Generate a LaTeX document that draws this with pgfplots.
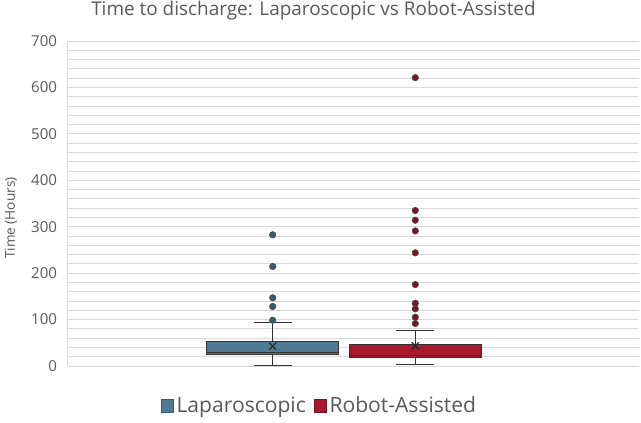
\documentclass[border=0pt]{standalone}
\usepackage{pgfplots}
\pgfplotsset{compat=1.18}
\usepgfplotslibrary{statistics}
\usepackage{fontspec}
\setmainfont{Open Sans}
\definecolor{txt}{HTML}{595959}
\definecolor{gridc}{HTML}{D9D9D9}
\definecolor{lapc}{HTML}{4E7A94}
\definecolor{robc}{HTML}{A8192E}
\definecolor{lapd}{HTML}{3A5A6E}
\definecolor{robd}{HTML}{7A1422}
\begin{document}
\begin{tikzpicture}
\path[use as bounding box] (-51pt,-42pt) rectangle (429.75pt,274.5pt);
\begin{axis}[
  scale only axis,
  width=428.25pt, height=243.75pt,
  xmin=0, xmax=571, ymin=0, ymax=700,
  axis y line*=left, axis x line=none,
  y axis line style={draw=gridc, line width=0.75pt},
  ytick={0,100,...,700},
  minor y tick num=4,
  ymajorgrids, yminorgrids,
  major grid style={draw=gridc, line width=0.75pt},
  minor grid style={draw=gridc, line width=0.75pt},
  major tick length=0pt, minor tick length=0pt,
  xtick=\empty,
  tick label style={font=\fontsize{11.3}{13}\selectfont, text=txt},
  /pgf/number format/assume math mode=true,
  yticklabel style={inner sep=0pt, xshift=-8pt},
  ylabel={Time (Hours)},
  ylabel style={at={(axis description cs:-0.0998,0.455)}, anchor=center, font=\fontsize{10.2}{12}\selectfont, text=txt},
  legend style={at={(axis description cs:0.441,-0.123)}, anchor=center, draw=none, fill=none,
    font=\fontsize{15.8}{18}\selectfont, text=txt, legend columns=2,
    /tikz/every even column/.append style={column sep=4pt}},
  legend image code/.code={\draw[#1, line width=0.6pt] (0pt,-4.6pt) rectangle (9.2pt,4.6pt);},
  boxplot/draw direction=y,
  boxplot/box extend=132,
  boxplot/whisker extend=38,
]
\addlegendimage{fill=lapc, draw=lapd}
\addlegendentry{Laparoscopic}
\addlegendimage{fill=robc, draw=robd}
\addlegendentry{Robot-Assisted}

\addplot+[forget plot, solid, draw=black!80, line width=0.8pt, fill=lapc,
  mark=*, mark size=2.4pt, mark options={fill=lapd, draw=black!70, line width=0.5pt},
  boxplot prepared={draw position=204.7, lower whisker=1, lower quartile=24.1,
    median=28.4, upper quartile=52.8, upper whisker=93.7}]
  table[row sep=\\, y index=0] {98.6\\ 128.2\\ 146.9\\ 214.3\\ 282.6\\};

\addplot+[forget plot, solid, draw=black!80, line width=0.8pt, fill=robc,
  mark=*, mark size=2.4pt, mark options={fill=robd, draw=black!70, line width=0.5pt},
  boxplot prepared={draw position=347.3, lower whisker=3.2, lower quartile=19,
    median=22.6, upper quartile=47, upper whisker=75.8}]
  table[row sep=\\, y index=0] {91.5\\ 105.1\\ 123.2\\ 135.3\\ 175.5\\ 243.8\\ 291\\ 314\\ 335\\ 621\\};

\addplot[forget plot, only marks, mark=x, mark size=3.8pt, draw=black!85, line width=0.8pt]
  coordinates {(204.7,42.6) (347.3,43.5)};
\end{axis}
\node[anchor=base, inner sep=0pt, text=txt, font=\fontsize{14.2}{16}\selectfont] at (184.1pt,262.5pt) {Time to discharge: Laparoscopic vs Robot-Assisted};
\end{tikzpicture}
\end{document}
